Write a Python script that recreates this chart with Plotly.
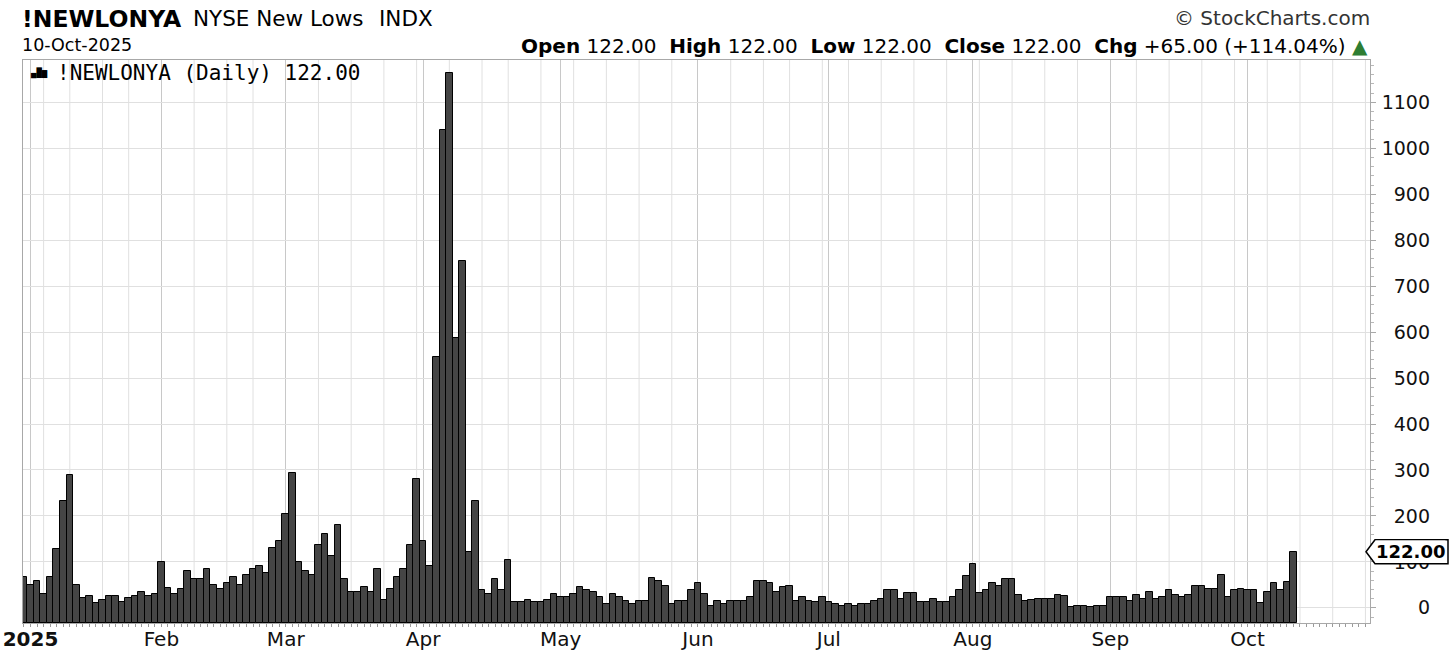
import numpy as np
import pandas as pd
import plotly.graph_objects as go

# ---------- data ----------
FIRST_DAY = "2024-12-31"
LAST_GRID_DAY = "2025-10-31"
HOLIDAYS = ["2025-01-01", "2025-01-09", "2025-01-20", "2025-02-17", "2025-04-18",
            "2025-05-26", "2025-06-19", "2025-07-04", "2025-09-01"]

# daily NYSE new lows (first value is 31-Dec-2024)
JAN = [68, 50, 58, 31, 68, 127, 233, 289, 49, 21, 26, 11, 16, 26, 26, 12, 21, 26, 34, 26, 31]
FEB = [100, 44, 31, 40, 81, 63, 63, 85, 49, 40, 54, 67, 49, 72, 85, 91, 76, 131, 145]
MAR = [205, 293, 100, 81, 72, 136, 160, 113, 181, 63, 34, 34, 45, 34, 85, 16, 40, 68, 85, 136, 280]
APR = [145, 90, 546, 1040, 1164, 588, 754, 122, 233, 39, 31, 63, 39, 105, 12, 12, 16, 12, 12, 16, 31]
MAY = [24, 24, 30, 45, 39, 35, 24, 9, 30, 24, 14, 9, 14, 14, 64, 58, 48, 9, 14, 14, 39]
JUN = [54, 30, 5, 14, 9, 14, 14, 14, 24, 58, 58, 54, 35, 45, 48, 14, 24, 14, 13, 24]
JUL = [13, 8, 5, 8, 5, 9, 9, 14, 20, 39, 39, 20, 33, 33, 13, 13, 20, 13, 13, 24, 39, 69]
AUG = [96, 33, 38, 53, 48, 63, 63, 29, 14, 18, 19, 19, 19, 29, 25, 2, 4, 4, 2, 4, 4]
SEP = [23, 23, 23, 14, 29, 19, 34, 19, 23, 38, 29, 23, 29, 47, 47, 42, 42, 71, 23, 38, 42]
OCT = [38, 38, 10, 34, 53, 38, 57, 122]

MONTH_LABELS = ["<b>2025</b>", "Feb", "Mar", "Apr", "May", "Jun", "Jul", "Aug", "Sep", "Oct"]
Y_TICKS = [0, 100, 200, 300, 400, 500, 600, 700, 800, 900, 1000, 1100]
LAST = 122.00
CHG = 65.00
CHG_PCT = 114.04

# ---------- colours / geometry ----------
BAR_FILL = "#454545"
FRAME = "#a8a8a8"
GRID_MONTH = "#c8c8c8"
GRID_LIGHT = "#e0e0e0"
FONT = "DejaVu Sans"

FIG_W, FIG_H = 1456, 653
M_L, M_R, M_T, M_B = 23, 10, 60, 30
PW = FIG_W - M_L - M_R
PH = FIG_H - M_T - M_B

Y_LO, Y_HI = -33, 1192
X_LO, X_HI = -0.15, 205.7


def fx(px):
    return (px - M_L) / PW


def fy(py):
    return (FIG_H - M_B - py) / PH


values = np.array(JAN + FEB + MAR + APR + MAY + JUN + JUL + AUG + SEP + OCT, dtype=float)

days = pd.bdate_range(FIRST_DAY, LAST_GRID_DAY)
days = days[~days.isin(pd.to_datetime(HOLIDAYS))]
idx = np.arange(len(days))

# first trading day of each month of 2025 -> major ticks
in_2025 = days.year == 2025
month_first = [i for i in idx if in_2025[i] and (i == 0 or days[i].month != days[i - 1].month)]
month_first = month_first[:len(MONTH_LABELS)]
# first trading day of each week -> light grid
week_first = [i for i in idx[1:] if days[i].weekday() < days[i - 1].weekday()]

n = len(values)

fig = go.Figure()

fig.add_trace(
    go.Bar(
        x=idx[:n],
        y=values - Y_LO,
        base=Y_LO,
        width=1,
        customdata=values,
        marker=dict(color=BAR_FILL, line=dict(color="black", width=1)),
        hovertemplate="%{customdata}<extra></extra>",
        showlegend=False,
    )
)

# invisible trace so the label axis is drawn
fig.add_trace(go.Scatter(x=[None], y=[None], yaxis="y2", showlegend=False, hoverinfo="skip"))

for w in week_first:
    if X_LO < w < X_HI and w not in month_first:
        fig.add_shape(type="line", xref="x", yref="paper", x0=w, x1=w, y0=0, y1=1,
                      line=dict(color=GRID_LIGHT, width=1), layer="below")

fig.update_layout(
    width=FIG_W,
    height=FIG_H,
    margin=dict(l=M_L, r=M_R, t=M_T, b=M_B),
    plot_bgcolor="white",
    paper_bgcolor="white",
    bargap=0,
    font=dict(family=FONT, color="#111111"),
    xaxis=dict(
        domain=[0, fx(1370)],
        range=[X_LO, X_HI],
        automargin=False,
        tickmode="array",
        tickvals=month_first,
        ticktext=MONTH_LABELS,
        showgrid=True,
        gridcolor=GRID_MONTH,
        zeroline=False,
        showline=True,
        linecolor=FRAME,
        mirror=True,
        ticks="",
        ticklabelstandoff=-2,
        tickfont=dict(size=20, color="#111111"),
        minor=dict(dtick=1, tick0=0, ticks="outside", ticklen=3, tickcolor="#9a9a9a", showgrid=False),
    ),
    yaxis=dict(
        side="right",
        range=[Y_LO, Y_HI],
        automargin=False,
        tickmode="array",
        tickvals=Y_TICKS,
        showticklabels=False,
        ticks="outside",
        ticklen=5,
        tickcolor=FRAME,
        showgrid=True,
        gridcolor=GRID_LIGHT,
        zeroline=False,
        showline=True,
        linecolor=FRAME,
        mirror=True,
        minor=dict(dtick=20, tick0=0, ticks="outside", ticklen=3, tickcolor="#b8b8b8", showgrid=False),
    ),
    yaxis2=dict(
        overlaying="y",
        side="left",
        anchor="free",
        position=fx(1430),
        range=[Y_LO, Y_HI],
        automargin=False,
        tickmode="array",
        tickvals=Y_TICKS,
        showgrid=False,
        showline=False,
        zeroline=False,
        ticks="",
        tickfont=dict(size=19, color="#111111"),
    ),
)


def header(px, py, text, size, anchor="left", color="black", family=FONT):
    fig.add_annotation(x=fx(px), y=fy(py), xref="paper", yref="paper", xanchor=anchor,
                       yanchor="middle", text=text, showarrow=False,
                       font=dict(family=family, size=size, color=color))


header(20, 19, "<b>!NEWLONYA</b>", 23.5)
header(191, 19, "NYSE New Lows", 21.5)
header(377, 19, "INDX", 21.5)
header(20, 45, "10-Oct-2025", 17.5)
header(1372, 18, "© StockCharts.com", 20, anchor="right", color="#333333")

ohlc = (f"<b>Open</b> {LAST:.2f}  <b>High</b> {LAST:.2f}  <b>Low</b> {LAST:.2f}  "
        f"<b>Close</b> {LAST:.2f}  <b>Chg</b> +{CHG:.2f} (+{CHG_PCT:.2f}%) "
        "<span style='color:#2e7d32'>▲</span>")
header(1370, 46, ohlc, 20, anchor="right")

# in-chart legend
header(28, 73, "<b>▄█▆</b>", 9, family="DejaVu Sans Mono")
header(55, 73, f"!NEWLONYA (Daily) {LAST:.2f}", 21, family="DejaVu Sans Mono")

# last value tag
fig.add_shape(type="path", xref="paper", yref="y", xsizemode="pixel", ysizemode="pixel",
              xanchor=fx(1366), yanchor=LAST,
              path="M0,0 L9,-12 L82,-12 L82,12 L9,12 Z",
              fillcolor="white", line=dict(color="black", width=1.5), layer="above")
fig.add_annotation(x=fx(1410), y=LAST, xref="paper", yref="y", xanchor="center", yanchor="middle",
                   text=f"<b>{LAST:.2f}</b>", showarrow=False, bgcolor="white", borderpad=0,
                   font=dict(family=FONT, size=18, color="black"))

# the page's default 8px body margin would push the chart off the window
fig.write_html("out.html", config={"displayModeBar": False},
               post_script="document.body.style.margin = '0px';")
